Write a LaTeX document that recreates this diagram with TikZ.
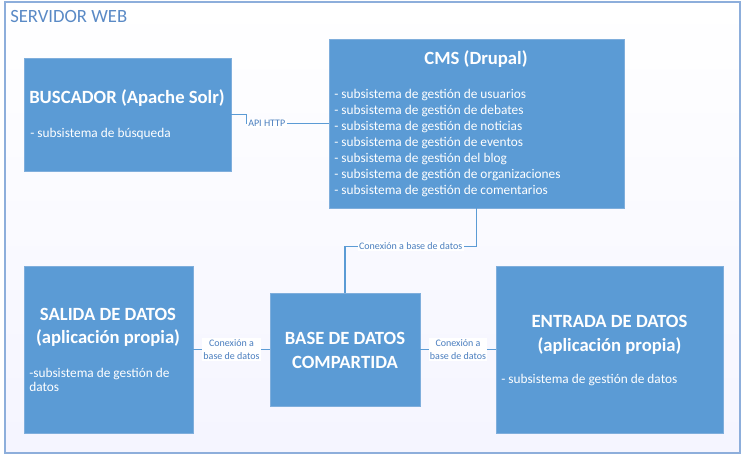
\documentclass[tikz,border=0pt]{standalone}
\usepackage{fontspec}
\setmainfont{Carlito}
\usepackage{tikz}
\newcommand{\px}{0.75pt}
\definecolor{boxBlue}{HTML}{5B9BD5}
\definecolor{boxEdge}{HTML}{7FAEDC}
\definecolor{frameBlue}{HTML}{8DAEDB}
\definecolor{titleBlue}{HTML}{5A8AC6}
\definecolor{lblBlue}{HTML}{4A7EBF}
\usetikzlibrary{calc,positioning,shadows}
\tikzset{
  x=\px, y=-\px,
  font=\fontsize{10}{12}\selectfont,
  block/.style 2 args={draw=boxEdge,line width=0.6pt,fill=boxBlue,shape=rectangle,minimum width=#1*\px,minimum height=#2*\px,inner sep=0,drop shadow={opacity=0.12,shadow xshift=1pt,shadow yshift=-1pt}},
  head/.style={text=white,font=\fontsize{14}{17.5}\selectfont\bfseries,align=center,inner sep=0},
  item/.style={text=white,align=left,inner sep=0,anchor=west},
  conn/.style={draw=boxBlue,line width=0.8pt},
  lbl/.style={fill=white,text=lblBlue,font=\fontsize{7.5}{9.5}\selectfont,inner sep=1pt,align=center},
}
\begin{document}
\begin{tikzpicture}
  \useasboundingbox (0,0) rectangle (742,455);
  \shade[top color=white,bottom color=blue!4!white] (5,2) rectangle (740,453);
  \draw[frameBlue,line width=1pt] (5,2) rectangle (740,453);
  \node (web) [anchor=west,inner sep=0,text=titleBlue,font=\fontsize{14}{16}\selectfont] at (10,17) {SERVIDOR WEB};

  \node (busc) [block={207}{113}] at (127.5,114.5) {};
  \node (cms) [block={295}{169}] at (476.5,123.5) {};
  \node (sal) [block={169}{167}] at (108.5,349.5) {};
  \node (bd) [block={150}{113}] at (345,349.5) {};
  \node (ent) [block={227}{167}] at (609.5,349.5) {};

  \node (buscH) [head] at (127,98) {BUSCADOR (Apache Solr)};
  \node (buscT) [item] at (30,134) {- subsistema de búsqueda};
  \node (cmsH) [head] at (476,59) {CMS (Drupal)};
  \node (cmsT) [item,font=\fontsize{10}{12}\selectfont] at (334,143) {- subsistema de gestión de usuarios\\- subsistema de gestión de debates\\- subsistema de gestión de noticias\\- subsistema de gestión de eventos\\- subsistema de gestión del blog\\- subsistema de gestión de organizaciones\\- subsistema de gestión de comentarios};
  \node (salH) [head] at (108,327.5) {SALIDA DE DATOS\\(aplicación propia)};
  \node (salT) [item,font=\fontsize{10}{10.5}\selectfont] at (29,380) {-subsistema de gestión de\\datos};
  \node (bdH) [head] at (345,350.5) {BASE DE DATOS\\COMPARTIDA};
  \node (entH) [head] at (609.5,335) {ENTRADA DE DATOS\\(aplicación propia)};
  \node (entT) [item] at (501,380) {- subsistema de gestión de datos};

  \draw[conn] (busc.east) -- ++(15,0) |- (cms.west) node[pos=0.5,anchor=west,lbl]{API HTTP};
  \draw[conn] (cms.south) -- ++(0,38) -| (bd.north) node[pos=0.25,lbl]{Conexión a base de datos};
  \draw[conn] (sal.east) -- (bd.west) node[midway,lbl]{Conexión a\\base de datos};
  \draw[conn] (bd.east) -- (ent.west) node[midway,lbl]{Conexión a\\base de datos};
\end{tikzpicture}
\end{document}
